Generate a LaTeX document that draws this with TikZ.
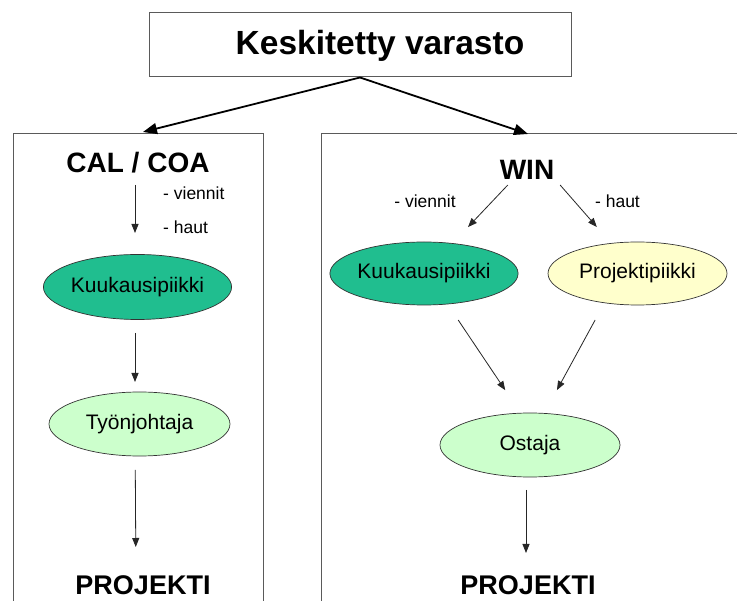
\documentclass[tikz,border=0pt]{standalone}
\usepackage{fontspec}
\setmainfont{Liberation Sans}
\usetikzlibrary{arrows.meta,shapes.geometric}
\definecolor{teal1}{RGB}{32,190,143}
\definecolor{mint}{RGB}{204,255,204}
\definecolor{cream}{RGB}{255,255,204}
\definecolor{frame}{RGB}{90,90,90}
\tikzset{
  oval/.style={ellipse,draw=black!80,line width=0.7pt,inner sep=0pt,
    font=\fontsize{21}{21}\selectfont},
  title/.style={font=\bfseries\fontsize{28}{28}\selectfont,inner sep=0pt},
  small/.style={font=\fontsize{17.5}{17.5}\selectfont,inner sep=0pt},
  arr/.style={draw=black!85,line width=0.8pt,-{Triangle[length=9pt,width=7pt]}},
  bigarr/.style={draw=black,line width=1.8pt,-{Triangle[length=14pt,width=11pt]}},
  panel/.style={draw=frame,line width=1pt}
}
\begin{document}
\begin{tikzpicture}[x=1pt,y=-1pt]
\useasboundingbox (0,0) rectangle (737,601);
\fill[white] (0,0) rectangle (737,601);

% the two open panels
\draw[panel] (13,601) -- (13,134) -- (263,134) -- (263,601);
\draw[panel] (321,601) -- (321,134) -- (737,134);

% central store
\node[draw=frame,line width=1pt,minimum width=422pt,minimum height=64pt,inner sep=0pt]
  (store) at (360,45) {};
\node[font=\bfseries\fontsize{33.5}{33.5}\selectfont,inner sep=0pt] (storetxt) at (380,46) {Keskitetty varasto};
\coordinate (inL) at (143,132);
\coordinate (inR) at (528,134);
\draw[bigarr] (store.south) -- (inL);
\draw[bigarr] (store.south) -- (inR);

% left panel
\node[title] (cal) at (138,163) {CAL / COA};
\node[small,anchor=west] (lv) at (163,193) {- viennit};
\node[small,anchor=west] (lh) at (163,227) {- haut};
\node[oval,fill=teal1,minimum width=178pt,minimum height=65pt] (kk1) at (137.5,287) {Kuukausipiikki};
\node[oval,fill=mint,minimum width=181pt,minimum height=64pt] (tyo) at (139.5,424) {Työnjohtaja};
\node[title,font=\bfseries\fontsize{27}{27}\selectfont] (pr1) at (143,585) {PROJEKTI};

\draw[arr,shorten <=22pt,shorten >=54pt] ([xshift=-3pt]cal.center) -- ([xshift=-2.5pt]kk1.center);
\draw[arr,shorten <=46pt,shorten >=42pt] ([xshift=-2.5pt]kk1.center) -- ([xshift=-4.5pt]tyo.center);
\draw[arr,shorten <=46pt,shorten >=38pt] ([xshift=-4.5pt]tyo.center) -- ([xshift=-7pt]pr1.center);

% right panel
\node[title] (win) at (527,170) {WIN};
\node[small] (rv) at (425,201) {- viennit};
\node[small] (rh) at (617.5,201) {- haut};
\node[oval,fill=teal1,minimum width=178pt,minimum height=63pt] (kk2) at (424,273.5) {Kuukausipiikki};
\node[oval,fill=cream,minimum width=179pt,minimum height=63pt] (proj) at (637.5,273.5) {Projektipiikki};
\node[oval,fill=mint,minimum width=180pt,minimum height=64pt] (ost) at (530,445) {Ostaja};
\node[title,font=\bfseries\fontsize{27}{27}\selectfont] (pr2) at (528,585) {PROJEKTI};

\draw[arr,shorten <=20.7pt,shorten >=64pt] ([xshift=-5pt]win.center) -- (kk2.center);
\draw[arr,shorten <=19.9pt,shorten >=61.8pt] ([xshift=20pt]win.center) -- (proj.center);
\draw[arr,shorten <=56pt,shorten >=66pt] ([xshift=3pt]kk2.center) -- ([xshift=12pt]ost.center);
\draw[arr,shorten <=53pt,shorten >=62.6pt] ([xshift=-17pt]proj.center) -- ([xshift=-3pt]ost.center);
\draw[arr,shorten <=45pt,shorten >=32pt] ([xshift=-4pt]ost.center) -- ([xshift=-2pt]pr2.center);
\end{tikzpicture}
\end{document}
